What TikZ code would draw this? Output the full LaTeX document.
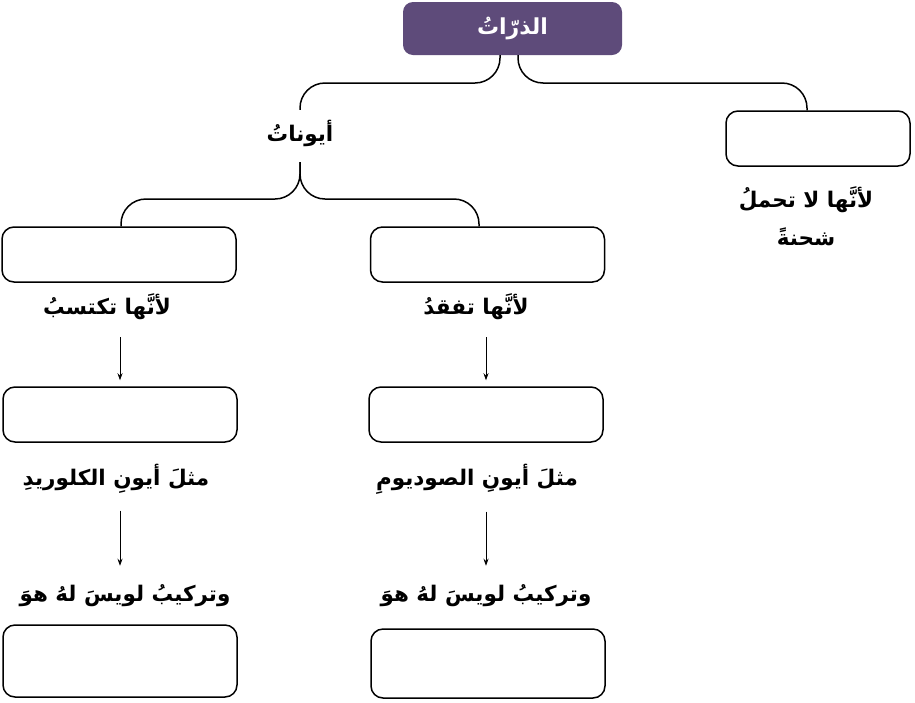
\documentclass[tikz,border=0pt]{standalone}
\usepackage{fontspec}
\usetikzlibrary{positioning, arrows.meta}
\TeXXeTstate=1
\newfontfamily\arabicfont[Script=Arabic]{DejaVu Sans}
\definecolor{atompurple}{RGB}{94, 75, 122}
\newcommand{\artext}[1]{\arabicfont\bfseries\beginR #1\endR}

\begin{document}
\begin{tikzpicture}[x=1pt, y=-1pt,
        emptybox/.style={draw, line width=1.5pt, rounded corners=12pt,
              minimum width=234pt, minimum height=55pt, inner sep=0pt},
        arlabel/.style={font=\fontsize{21.5}{38}\selectfont, inner sep=2pt, align=center},
        brace/.style={line width=1.5pt, rounded corners=25pt},
        arr/.style={-{Stealth[length=7pt, width=5pt]}, line width=0.8pt}]
    \useasboundingbox (0,0) rectangle (915,702);

    % top of the tree
    \node[fill=atompurple, rounded corners=10pt, minimum width=219pt, minimum height=53pt,
          text=white, font=\fontsize{22}{26}\selectfont] (atoms) at (512.5,28.5) {\artext{الذرّاتُ}};
    \node[arlabel, minimum height=46pt] (ions) at (300,133) {\artext{أيوناتُ}};
    \node[emptybox, minimum width=184pt] (neutral) at (818,138.5) {};
    \node[arlabel] (neutraltext) at (806,216) {\artext{لأنَّها لا تحملُ}\\\artext{شحنةً}};

    % the two kinds of ions
    \node[emptybox] (gain) at (119,254.5) {};
    \node[emptybox] (lose) at (487.5,254.5) {};
    \node[arlabel] (gaintext) at (107,307) {\artext{لأنَّها تكتسبُ}};
    \node[arlabel] (losetext) at (476,307) {\artext{لأنَّها تفقدُ}};

    \node[emptybox] (gainex) at (120,414.5) {};
    \node[emptybox] (loseex) at (486,414.5) {};
    \node[arlabel] (gainextext) at (116,479) {\artext{مثلَ أيونِ الكلوريدِ}};
    \node[arlabel] (loseextext) at (477,479) {\artext{مثلَ أيونِ الصوديومِ}};

    \node[arlabel] (gainlewis) at (125,596) {\artext{وتركيبُ لويسَ لهُ هوَ}};
    \node[arlabel] (loselewis) at (486,596) {\artext{وتركيبُ لويسَ لهُ هوَ}};
    \node[emptybox, minimum height=72pt] (gainlewisbox) at (120,661) {};
    \node[emptybox, minimum height=69pt] (loselewisbox) at (488,663.5) {};

    % braces
    \coordinate (topbar) at (0,83);
    \coordinate (ionsbar) at (0,199);
    \coordinate (neutraltop) at ([xshift=-11pt]neutral.north);
    \coordinate (ionstip) at ([yshift=-6pt]ions.south);
    \coordinate (gaintop) at ([xshift=2pt]gain.north);
    \coordinate (losetop) at ([xshift=-8.5pt]lose.north);
    \draw[brace] ([xshift=-12.5pt]atoms.south) |- (ions.north |- topbar) -- (ions.north);
    \draw[brace] ([xshift=5.5pt]atoms.south) |- (neutraltop |- topbar) -- (neutraltop);
    \draw[brace] (ionstip) |- (gaintop |- ionsbar) -- (gaintop);
    \draw[brace] (ionstip) |- (losetop |- ionsbar) -- (losetop);

    % arrows
    \draw[arr, shorten <=15pt] (gaintext.south -| gainex.north) -- ([yshift=6pt]gainex.north);
    \draw[arr, shorten <=15pt] (losetext.south -| loseex.north) -- ([yshift=6pt]loseex.north);
    \draw[arr, shorten <=15pt, shorten >=17pt] (gainextext.south -| gainex.north) -- (gainlewis.north -| gainex.north);
    \draw[arr, shorten <=15pt, shorten >=17pt] (loseextext.south -| loseex.north) -- (loselewis.north -| loseex.north);
\end{tikzpicture}
\end{document}
